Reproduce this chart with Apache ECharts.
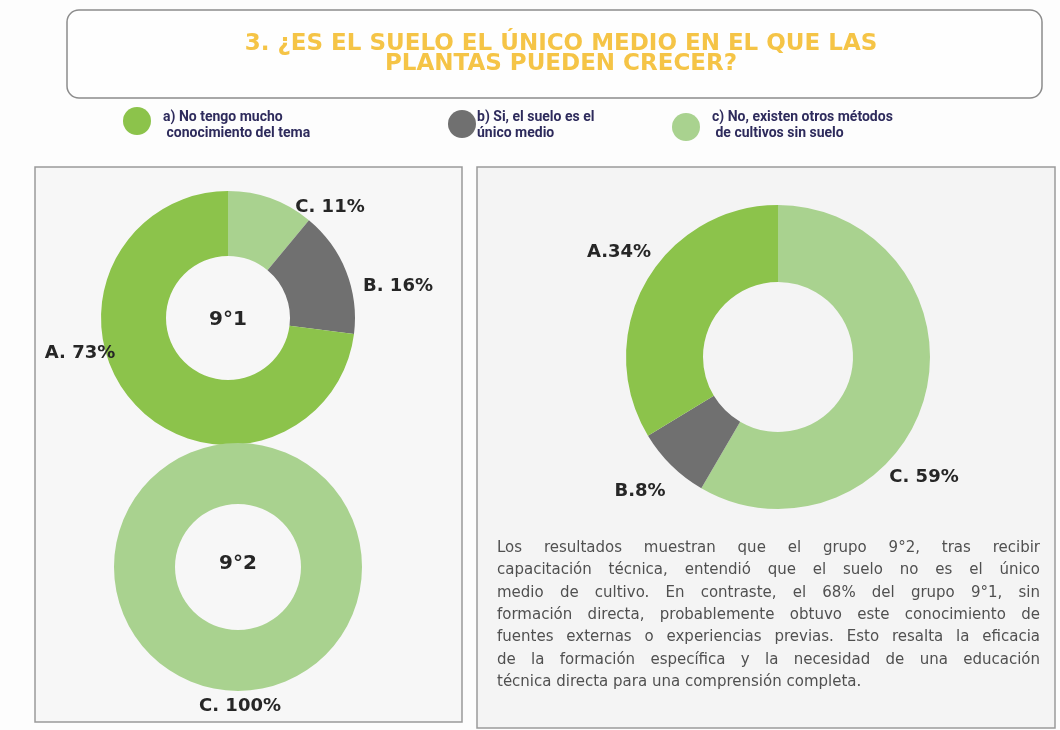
<!DOCTYPE html>
<html>
<head>
<meta charset="utf-8">
<script src="https://cdn.jsdelivr.net/npm/echarts@6/dist/echarts.min.js"></script>
<style>
  html, body { margin: 0; padding: 0; background: #fdfdfd; }
  #main { width: 1060px; height: 730px; }
</style>
</head>
<body>
<div id="main"></div>
<script>
// answer options and their colours
var optionNames = ['A', 'B', 'C'];
var optionColors = ['#8cc34b', '#707070', '#a9d28f'];
var legendTexts = [
  'a) No tengo mucho\n conocimiento del tema',
  'b) Si, el suelo es el\núnico medio',
  'c) No, existen otros métodos\n de cultivos sin suelo'
];

// percentages per group (A, B, C)
var group91 = [73, 16, 11];
var group92 = [0, 0, 100];
var groupRight = [34, 8, 59];
var rightSeparators = ['.', '.', '. '];

var titleText = '3. ¿ES EL SUELO EL ÚNICO MEDIO EN EL QUE LAS\nPLANTAS PUEDEN CRECER?';

var paragraphLines = [
  'Los resultados muestran que el grupo 9°2, tras recibir',
  'capacitación técnica, entendió que el suelo no es el único',
  'medio de cultivo. En contraste, el 68% del grupo 9°1, sin',
  'formación directa, probablemente obtuvo este conocimiento de',
  'fuentes externas o experiencias previas. Esto resalta la eficacia',
  'de la formación específica y la necesidad de una educación',
  'técnica directa para una comprensión completa.'
];

var chart = echarts.init(document.getElementById('main'));

// label spots (by series, by option index A/B/C)
var labelSpots = [
  [[80, 353], [398, 286], [330, 207]],
  [null, null, [240, 706]],
  [[619, 252], [640, 491], [924, 477]]
];

function buildData(values, seps) {
  var out = [];
  // clockwise from 12 o'clock the order is C, B, A
  for (var i = values.length - 1; i >= 0; i--) {
    if (values[i] <= 0) continue;
    out.push({
      name: optionNames[i],
      value: values[i],
      idx: i,
      sep: seps ? seps[i] : '. ',
      itemStyle: { color: optionColors[i] }
    });
  }
  return out;
}

function donut(values, center, radius, seps, sIdx) {
  return {
    type: 'pie',
    center: center,
    radius: radius,
    startAngle: 90,
    clockwise: true,
    avoidLabelOverlap: false,
    silent: true,
    data: buildData(values, seps),
    label: {
      show: true,
      position: 'outside',
      formatter: function (p) { return p.name + p.data.sep + p.value + '%'; },
      fontFamily: 'DejaVu Sans',
      fontWeight: 'bold',
      fontSize: 18,
      color: '#262626'
    },
    labelLine: { show: false },
    labelLayout: function (p) {
      var d = chart.getOption().series[sIdx].data[p.dataIndex];
      var pos = labelSpots[sIdx][d.idx];
      return { x: pos[0], y: pos[1], align: 'center', verticalAlign: 'middle' };
    }
  };
}

// justified paragraph, one text element per word
function paragraphElements() {
  var font = '15px "DejaVu Sans"';
  var ctx = document.createElement('canvas').getContext('2d');
  ctx.font = font;
  var left = 497, right = 1040, top = 548, lh = 22.4;
  var els = [];
  paragraphLines.forEach(function (line, li) {
    var words = line.split(' ');
    var widths = words.map(function (w) { return ctx.measureText(w).width; });
    var total = widths.reduce(function (a, b) { return a + b; }, 0);
    var last = li === paragraphLines.length - 1;
    var gap = last ? ctx.measureText(' ').width : (right - left - total) / (words.length - 1);
    var x = left;
    words.forEach(function (w, wi) {
      els.push({
        type: 'text', x: x, y: top + li * lh, silent: true,
        style: { text: w, font: font, fill: '#505050', textVerticalAlign: 'middle' }
      });
      x += widths[wi] + gap;
    });
  });
  return els;
}

var legendSpots = [[137, 121, 163], [462, 124, 477], [686, 127, 712]];

var graphics = [
  { type: 'rect', shape: { x: 67, y: 10, width: 975, height: 88, r: 12 }, style: { fill: '#fefefe', stroke: '#8c8c8c', lineWidth: 1.5 }, silent: true },
  { type: 'text', x: 561, y: 54, silent: true,
    style: { text: titleText, font: 'bold 23px "DejaVu Sans"', fill: '#f5c446', textAlign: 'center', textVerticalAlign: 'middle', lineHeight: 20 } },
  { type: 'rect', shape: { x: 35, y: 167, width: 427, height: 555 }, style: { fill: '#f7f7f7', stroke: '#9a9a9a', lineWidth: 1.5 }, silent: true, z: -10 },
  { type: 'rect', shape: { x: 477, y: 167, width: 578, height: 561 }, style: { fill: '#f4f4f4', stroke: '#9a9a9a', lineWidth: 1.5 }, silent: true, z: -10 },
  { type: 'text', x: 228, y: 320, silent: true, style: { text: '9°1', font: 'bold 20px "DejaVu Sans"', fill: '#262626', textAlign: 'center', textVerticalAlign: 'middle' } },
  { type: 'text', x: 238, y: 564, silent: true, style: { text: '9°2', font: 'bold 20px "DejaVu Sans"', fill: '#262626', textAlign: 'center', textVerticalAlign: 'middle' } }
];

legendSpots.forEach(function (s, i) {
  graphics.push({ type: 'circle', shape: { cx: s[0], cy: s[1], r: 14 }, style: { fill: optionColors[i] }, silent: true });
  graphics.push({ type: 'text', x: s[2], y: 125, silent: true,
    style: { text: legendTexts[i], font: 'bold 14px Roboto', fill: '#2e2b5c', textVerticalAlign: 'middle', lineHeight: 16 } });
});

graphics = graphics.concat(paragraphElements());

chart.setOption({
  backgroundColor: '#fdfdfd',
  animation: false,
  graphic: { elements: graphics },
  series: [
    donut(group91, [228, 318], [62, 127], null, 0),
    donut(group92, [238, 567], [63, 124], null, 1),
    donut(groupRight, [778, 357], [75, 152], rightSeparators, 2)
  ]
});
</script>
</body>
</html>
